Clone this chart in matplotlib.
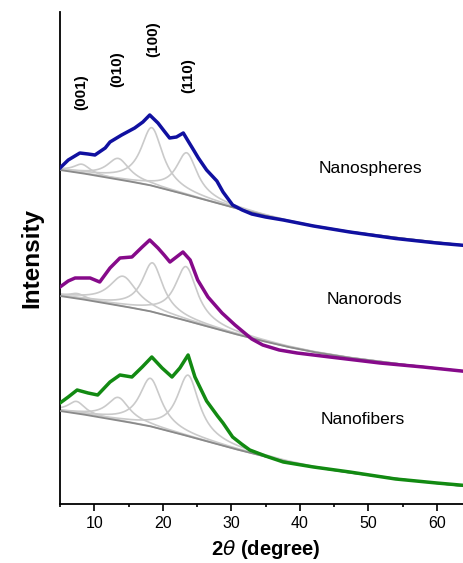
import numpy as np
import matplotlib
matplotlib.use("Agg")
import matplotlib.pyplot as plt
from matplotlib.ticker import MultipleLocator

plt.rcParams["font.family"] = ["Liberation Sans", "DejaVu Sans"]

samples = ["Nanospheres", "Nanorods", "Nanofibers"]
colors = ["#1010a0", "#860a8a", "#128a12"]
peak_labels = ["(001)", "(010)", "(100)", "(110)"]

# measured patterns, 2theta (deg) and stacked intensity (a.u.)
theta_sph = [5.0, 6.2, 7.9, 9.1, 10.1, 11.6, 12.3, 14.0, 15.9, 17.1, 18.1, 19.3, 20.2, 21.0,
             22.0, 23.0, 23.7, 24.5, 25.2, 26.4, 27.9, 28.8, 30.2, 31.6, 33.0, 35.0, 37.6,
             42.0, 47.3, 54.0, 60.0, 65.0]
int_sph = [336, 344, 351, 350, 349, 356, 362, 369, 376, 382, 389, 381, 373, 366,
           367, 371, 363, 354, 346, 334, 323, 312, 299, 294, 290, 287, 284,
           278, 272, 265.5, 261, 258]

theta_rod = [5.0, 6.2, 7.2, 9.4, 10.8, 12.3, 13.75, 15.5, 17.0, 18.1, 19.3, 20.2, 21.05, 22.0,
             22.95, 24.0, 25.1, 26.6, 28.65, 30.55, 33.0, 34.6, 37.0, 39.6, 44.4, 51.7, 58.0, 65.0]
int_rod = [217, 223, 226, 226, 222, 236, 246, 247, 257, 264, 256, 249, 242, 247,
           252, 244, 224, 207, 191, 179, 165, 159, 154, 151, 147, 141, 137, 132]

theta_fib = [5.0, 6.2, 7.5, 9.1, 10.5, 12.3, 13.75, 15.5, 17.0, 18.4, 19.9, 21.35, 22.5, 23.7,
             24.7, 26.4, 28.0, 28.8, 30.2, 31.5, 32.7, 35.0, 37.6, 42.0, 47.3, 54.0, 60.0, 65.0]
int_fib = [101, 107, 114, 111, 109, 122, 129, 127, 137, 147, 136, 127, 136, 149,
           127, 103, 88, 81, 67, 60, 54, 48, 42, 37, 32, 25, 21, 18]

# fitted background
bg_theta = [5, 8, 11, 14, 18, 22, 26, 30, 34, 38, 42, 47, 55, 65]
bg_sph = [334, 331, 327.5, 324, 319, 312, 304.5, 297, 290, 283.5, 278, 272.5, 265.5, 258]
bg_rod = [208, 205, 201.5, 198, 193, 186, 178.5, 171, 164, 157.5, 152, 146.5, 139.5, 132]
bg_fib = [93, 90, 86.5, 83, 78, 71, 63.5, 56, 49, 42.5, 37, 31.5, 24.5, 17]

# fitted peaks: centre (deg), height above background, FWHM (deg)
centre_sph = [8.2, 13.5, 18.4, 23.5]
height_sph = [9, 21, 58, 42]
fwhm_sph = [3.0, 4.0, 3.9, 3.7]

centre_rod = [7.5, 14.2, 18.5, 23.4]
height_rod = [5, 30, 49, 54]
fwhm_rod = [3.0, 4.9, 3.7, 3.9]

centre_fib = [7.4, 13.5, 18.2, 23.7]
height_fib = [12, 23, 48, 61]
fwhm_fib = [3.0, 4.0, 3.9, 3.9]

measured = [(theta_sph, int_sph), (theta_rod, int_rod), (theta_fib, int_fib)]
backgrounds = [bg_sph, bg_rod, bg_fib]
peaks = [(centre_sph, height_sph, fwhm_sph),
         (centre_rod, height_rod, fwhm_rod),
         (centre_fib, height_fib, fwhm_fib)]


def lorentz(x, c, h, fwhm):
    w = fwhm / 2.0
    return h * w ** 2 / ((x - c) ** 2 + w ** 2)


fig = plt.figure(figsize=(4.63, 5.63), dpi=100)
ax = fig.add_axes([60 / 463, 59 / 563, 411 / 463, 492 / 563])

x = np.linspace(5, 65, 800)
for (tt, yy), bg, (cs, hs, ws), col in zip(measured, backgrounds, peaks, colors):
    base = np.interp(x, bg_theta, bg)
    for c, h, w in zip(cs, hs, ws):
        ax.plot(x, base + lorentz(x, c, h, w), color="#cacaca", lw=1.2, zorder=2)
    ax.plot(x, base, color="#8a8a8a", lw=1.3, zorder=3)
    ax.plot(tt, yy, color=col, lw=2.5, zorder=4, solid_joinstyle="round")

for name, (xt, yt) in zip(samples, [(50.3, 336), (49.5, 204), (49.2, 84)]):
    ax.text(xt, yt, name, fontsize=12.5, ha="center", va="center")

for lab, (xt, yt) in zip(peak_labels, [(8.1, 412), (13.3, 435), (18.6, 465), (23.7, 428)]):
    ax.text(xt, yt, lab, fontsize=11, fontweight="bold", rotation=90,
            ha="center", va="center")

ax.set_xlim(5, 65)
ax.set_ylim(0, 492)
ax.xaxis.set_major_locator(MultipleLocator(10))
ax.xaxis.set_minor_locator(MultipleLocator(5))
ax.set_yticks([])
ax.spines["top"].set_visible(False)
ax.spines["right"].set_visible(False)
ax.spines["left"].set_linewidth(1.3)
ax.spines["bottom"].set_linewidth(1.3)
ax.tick_params(axis="x", which="major", direction="out", length=5, width=1.2, labelsize=11.5)
ax.tick_params(axis="x", which="minor", direction="out", length=2.5, width=1.2)

ax.set_xlabel(r"2$\theta$ (degree)", fontsize=14.5, fontweight="bold", labelpad=5)
ax.set_ylabel("Intensity", fontsize=17.5, fontweight="bold", labelpad=12)

fig.savefig("out.png", dpi=100)
plt.close(fig)
